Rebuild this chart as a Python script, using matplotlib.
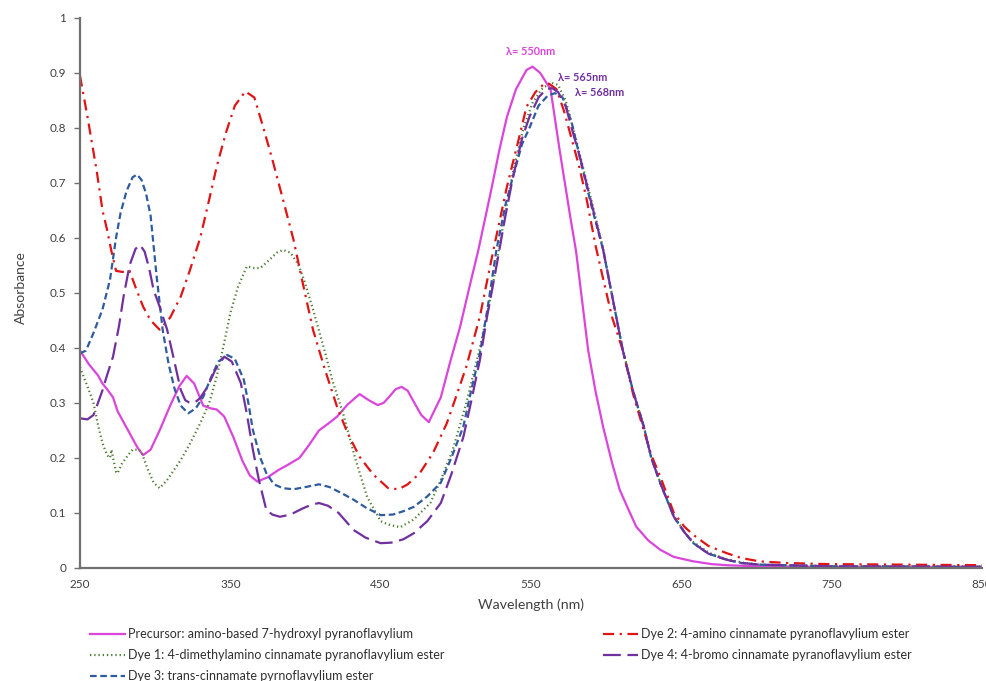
import matplotlib
matplotlib.use("Agg")
import matplotlib.pyplot as plt

plt.rcParams['font.family'] = ['Lato', 'DejaVu Sans']

# ---------------- data ----------------
labels = [
    "Precursor: amino-based 7-hydroxyl pyranoflavylium",
    "Dye 1: 4-dimethylamino cinnamate pyranoflavylium ester",
    "Dye 3: trans-cinnamate pyrnoflavylium ester",
    "Dye 2: 4-amino cinnamate pyranoflavylium ester",
    "Dye 4: 4-bromo cinnamate pyranoflavylium ester",
]

prec_x = [250, 256, 262, 265, 268, 272, 275, 277, 283, 288, 292, 297, 303, 310, 316, 321, 326, 332, 337, 341,
          346, 352, 358, 363, 368, 375, 382, 388, 396, 402, 409, 415, 421, 428, 436, 442, 448, 452, 456, 460,
          464, 468, 472, 477, 482, 490, 496, 503, 509, 515, 523, 529, 534, 540, 547, 551, 556, 563, 569, 576,
          580, 588, 593, 598, 604, 609, 615, 620, 628, 636, 645, 658, 670, 680, 700, 750, 800, 850]
prec_y = [0.395, 0.37, 0.35, 0.335, 0.325, 0.31, 0.285, 0.275, 0.245, 0.22, 0.205, 0.215, 0.25, 0.295, 0.33,
          0.349, 0.335, 0.295, 0.29, 0.288, 0.275, 0.238, 0.195, 0.168, 0.157, 0.165, 0.178, 0.187, 0.2, 0.222,
          0.25, 0.262, 0.275, 0.297, 0.316, 0.305, 0.296, 0.3, 0.312, 0.325, 0.329, 0.322, 0.302, 0.278, 0.265,
          0.31, 0.372, 0.44, 0.51, 0.578, 0.68, 0.76, 0.82, 0.87, 0.905, 0.911, 0.9, 0.87, 0.76, 0.64, 0.575,
          0.396, 0.32, 0.256, 0.19, 0.142, 0.105, 0.075, 0.05, 0.033, 0.02, 0.012, 0.007, 0.005, 0.003, 0.002,
          0.002, 0.002]

dye1_x = [250, 255, 259, 262, 265, 268, 270, 271, 272, 274, 275, 278, 282, 285, 289, 291, 295, 299, 303, 308,
          313, 317, 323, 330, 336, 341, 346, 350, 355, 361, 366, 370, 376, 381, 385, 390, 395, 399, 405, 412,
          418, 425, 433, 441, 450, 455, 463, 472, 483, 490, 498, 507, 516, 523, 530, 538, 545, 551, 557, 563,
          568, 573, 578, 583, 590, 598, 605, 611, 618, 625, 630, 636, 645, 652, 658, 668, 680, 690, 702, 750,
          850]
dye1_y = [0.365, 0.33, 0.30, 0.26, 0.227, 0.205, 0.2, 0.215, 0.2, 0.175, 0.172, 0.19, 0.205, 0.215, 0.215,
          0.21, 0.18, 0.155, 0.145, 0.16, 0.18, 0.196, 0.225, 0.263, 0.3, 0.348, 0.41, 0.463, 0.51, 0.548,
          0.545, 0.545, 0.56, 0.573, 0.578, 0.573, 0.553, 0.524, 0.47, 0.402, 0.34, 0.281, 0.2, 0.129, 0.085,
          0.079, 0.074, 0.088, 0.118, 0.16, 0.215, 0.3, 0.40, 0.49, 0.6, 0.72, 0.8, 0.845, 0.87, 0.882, 0.878,
          0.85, 0.8, 0.745, 0.67, 0.58, 0.48, 0.398, 0.32, 0.258, 0.2, 0.155, 0.095, 0.065, 0.047, 0.028,
          0.016, 0.01, 0.006, 0.003, 0.003]

dye2_x = [250, 255, 261, 265, 268, 271, 274, 278, 283, 287, 292, 297, 303, 310, 317, 323, 330, 336, 341, 347,
          353, 360, 366, 372, 378, 385, 392, 398, 405, 413, 421, 428, 436, 445, 455, 462, 468, 476, 485, 494,
          500, 507, 516, 525, 534, 541, 547, 553, 558, 562, 567, 572, 576, 582, 587, 593, 598, 604, 611, 618,
          625, 630, 636, 645, 652, 658, 668, 680, 690, 702, 720, 747, 800, 850]
dye2_y = [0.895, 0.82, 0.724, 0.65, 0.615, 0.575, 0.54, 0.538, 0.54, 0.51, 0.475, 0.45, 0.433, 0.455, 0.493,
          0.54, 0.6, 0.67, 0.73, 0.79, 0.84, 0.866, 0.855, 0.8, 0.742, 0.67, 0.597, 0.52, 0.433, 0.36, 0.293,
          0.245, 0.202, 0.17, 0.145, 0.143, 0.152, 0.172, 0.21, 0.263, 0.31, 0.366, 0.457, 0.578, 0.693, 0.77,
          0.838, 0.865, 0.878, 0.88, 0.87, 0.83, 0.79, 0.73, 0.67, 0.585, 0.525, 0.455, 0.396, 0.315, 0.25,
          0.205, 0.166, 0.1, 0.075, 0.06, 0.04, 0.027, 0.018, 0.012, 0.009, 0.007, 0.006, 0.005]

dye3_x = [250, 254, 259, 265, 270, 274, 277, 281, 285, 288, 291, 294, 297, 301, 305, 309, 313, 317, 322, 327,
          332, 337, 342, 348, 353, 359, 362, 365, 370, 374, 379, 385, 392, 400, 409, 416, 424, 432, 440, 450,
          458, 465, 472, 481, 490, 497, 505, 510, 516, 521, 527, 533, 538, 544, 549, 555, 561, 566, 571, 577,
          583, 590, 598, 605, 611, 618, 625, 630, 636, 645, 652, 658, 668, 680, 690, 702, 750, 850]
dye3_y = [0.39, 0.395, 0.427, 0.47, 0.524, 0.6, 0.645, 0.685, 0.71, 0.715, 0.705, 0.68, 0.64, 0.53, 0.433,
          0.37, 0.325, 0.295, 0.281, 0.29, 0.311, 0.345, 0.375, 0.387, 0.38, 0.342, 0.3, 0.251, 0.2, 0.172,
          0.152, 0.145, 0.143, 0.147, 0.152, 0.147, 0.136, 0.124, 0.11, 0.096, 0.097, 0.103, 0.111, 0.13,
          0.155, 0.2, 0.257, 0.32, 0.39, 0.47, 0.578, 0.66, 0.711, 0.77, 0.80, 0.84, 0.858, 0.863, 0.855,
          0.81, 0.74, 0.66, 0.578, 0.48, 0.396, 0.32, 0.257, 0.2, 0.154, 0.093, 0.065, 0.045, 0.026, 0.015,
          0.009, 0.006, 0.003, 0.002]

dye4_x = [250, 255, 259, 262, 265, 268, 272, 276, 279, 283, 287, 290, 293, 296, 299, 303, 308, 312, 317, 320,
          323, 327, 330, 335, 340, 346, 351, 357, 361, 365, 369, 374, 378, 383, 390, 398, 404, 409, 415, 422,
          432, 440, 450, 457, 465, 472, 481, 490, 497, 505, 510, 516, 521, 527, 533, 538, 544, 549, 555, 560,
          564, 568, 573, 578, 583, 590, 598, 605, 611, 618, 625, 630, 636, 645, 652, 658, 668, 680, 690, 702,
          750, 850]
dye4_y = [0.272, 0.27, 0.278, 0.3, 0.323, 0.35, 0.384, 0.44, 0.493, 0.55, 0.58, 0.587, 0.575, 0.545, 0.505,
          0.475, 0.433, 0.385, 0.324, 0.305, 0.30, 0.302, 0.309, 0.33, 0.36, 0.384, 0.375, 0.336, 0.28, 0.215,
          0.16, 0.105, 0.097, 0.093, 0.097, 0.108, 0.115, 0.118, 0.113, 0.1, 0.069, 0.055, 0.045, 0.046, 0.052,
          0.063, 0.085, 0.118, 0.17, 0.238, 0.3, 0.378, 0.46, 0.548, 0.64, 0.71, 0.78, 0.82, 0.855, 0.87, 0.872,
          0.865, 0.84, 0.79, 0.742, 0.665, 0.578, 0.48, 0.396, 0.32, 0.257, 0.2, 0.154, 0.093, 0.065, 0.045,
          0.026, 0.015, 0.009, 0.006, 0.003, 0.002]

annot_texts = ["λ= 550nm", "λ= 565nm", "λ= 568nm"]
annot_x = [550, 584.5, 595.5]
annot_y = [0.938, 0.891, 0.864]

x_ticks = [250, 350, 450, 550, 650, 750, 850]
y_ticks = [0, 0.1, 0.2, 0.3, 0.4, 0.5, 0.6, 0.7, 0.8, 0.9, 1]

# ---------------- styling ----------------
c_prec = "#DC45DC"
c_dye1 = "#4F7F36"
c_dye2 = "#E01414"
c_dye3 = "#2F5C9E"
c_dye4 = "#7030A0"

fig = plt.figure(figsize=(9.87, 6.81), dpi=100)
ax = fig.add_axes([0.081, 0.166, 0.914, 0.808])

lw = 1.6
l0, = ax.plot(prec_x, prec_y, color=c_prec, lw=lw, ls='-', label=labels[0])
l1, = ax.plot(dye1_x, dye1_y, color=c_dye1, lw=lw, ls=(0, (0.6, 1.3)), label=labels[1])
l3, = ax.plot(dye3_x, dye3_y, color=c_dye3, lw=lw, ls=(0, (3, 1.6)), label=labels[2])
l2, = ax.plot(dye2_x, dye2_y, color=c_dye2, lw=lw, ls=(0, (5, 2.5, 1, 2.5)), label=labels[3])
l4, = ax.plot(dye4_x, dye4_y, color=c_dye4, lw=lw, ls=(0, (8, 3)), label=labels[4])

ax.set_xlim(250, 850)
ax.set_ylim(0, 1)
ax.set_xticks(x_ticks)
ax.set_xticklabels([str(v) for v in x_ticks])
ax.set_yticks(y_ticks)
ax.set_yticklabels(["0", "0.1", "0.2", "0.3", "0.4", "0.5", "0.6", "0.7", "0.8", "0.9", "1"])

for s in ['top', 'right']:
    ax.spines[s].set_visible(False)
for s in ['left', 'bottom']:
    ax.spines[s].set_color('#707070')
    ax.spines[s].set_linewidth(1.6)
ax.tick_params(axis='y', direction='out', length=4, width=1, color='#707070', labelsize=8.5,
               labelcolor='#404040', pad=6)
ax.tick_params(axis='x', length=0, labelsize=8.5, labelcolor='#404040', pad=8)

ax.set_xlabel("Wavelength (nm)", fontsize=10.2, color='#404040')
ax.set_ylabel("Absorbance", fontsize=10, color='#404040')
ax.xaxis.set_label_coords(0.5, -0.055)
ax.yaxis.set_label_coords(-0.059, 0.51)

annot_colors = [c_prec, c_dye4, c_dye4]
for t, x, y, c in zip(annot_texts, annot_x, annot_y, annot_colors):
    ax.text(x, y, t, color=c, fontsize=7.8, fontweight='bold', ha='center', va='center')

leg = fig.legend(handles=[l0, l1, l3, l2, l4], loc='upper left', bbox_to_anchor=(0.091, 0.078),
                 ncol=2, frameon=False, fontsize=9, handlelength=2.8, handletextpad=0.25,
                 columnspacing=12.65, labelspacing=0.74, borderaxespad=0, borderpad=0)
for t in leg.get_texts():
    t.set_color('#303030')

fig.savefig("out.png", dpi=100)
